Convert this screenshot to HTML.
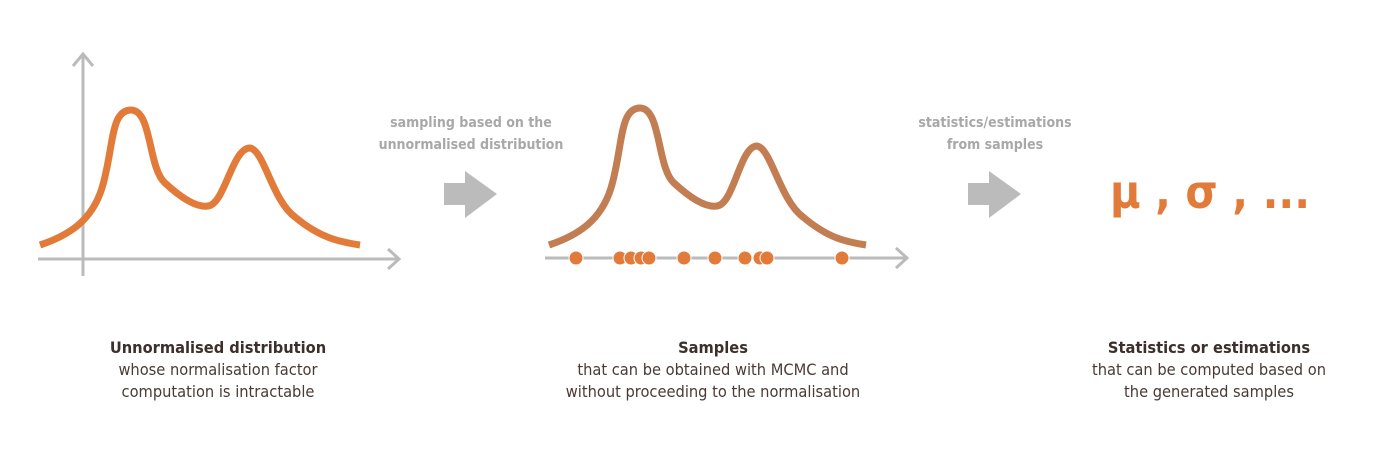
<!DOCTYPE html>
<html><head><meta charset="utf-8"><style>
body{margin:0;background:#fff;width:1400px;height:463px;overflow:hidden;font-family:"DejaVu Sans Condensed","Liberation Sans",sans-serif}
.t{position:absolute;text-align:center;font-size:16.3px;color:#4a3a36;line-height:22px;width:400px}
.t b{color:#3c2f2c}
.g{position:absolute;text-align:center;font-size:14px;font-weight:bold;color:#a8a8a8;line-height:22px;width:300px}
</style></head><body>
<svg width="1400" height="463" style="position:absolute;left:0;top:0">
<g stroke="#bbb" stroke-width="3" fill="none">
<line x1="83" y1="56" x2="83" y2="276"/><polyline points="73,66 83,54 93,66"/>
<line x1="38" y1="259" x2="398" y2="259"/><polyline points="388,249 399,259 388,269"/>
</g>
<path fill="none" stroke="#e27b3a" stroke-width="7" d="M40,245 C70,235 92,220 102,188 C114,148 110,110 131,110 C152,110 148,168 165,183 C178,195 195,208 208,206 C225,204 232,148 250,148 C264,150 272,200 295,217 C320,238 340,242 360,245"/>
<g stroke="#bbb" stroke-width="3" fill="none">
<line x1="545" y1="258" x2="906" y2="258"/><polyline points="896,248 907,258 896,268"/>
</g>
<path fill="none" stroke="#c27d52" stroke-width="7" d="M549,245 C579,235 601,220 611,188 C623,148 619,108 640,108 C661,108 657,168 674,183 C687,195 704,208 717,206 C734,204 740,146 757,146 C771,148 780,200 803,217 C828,238 846,242 866,245"/>
<g id="dots"></g>
<g><polygon points="444,183 465,183 465,171 497,194 465,218 465,205 444,205" fill="#bbb"/></g>
<g><polygon points="968,183 989,183 989,171 1021,194 989,218 989,205 968,205" fill="#bbb"/></g>
<text x="1210" y="208" text-anchor="middle" font-family="DejaVu Sans, sans-serif" font-weight="bold" font-size="46" fill="#e27b3a" textLength="200" lengthAdjust="spacingAndGlyphs">μ , σ , ...</text>
</svg>
<div class="g" style="left:321px;top:112px">sampling based on the<br>unnormalised distribution</div>
<div class="g" style="left:845px;top:112px">statistics/estimations<br>from samples</div>
<div class="t" style="left:18px;top:337px"><b>Unnormalised distribution</b><br>whose normalisation factor<br>computation is intractable</div>
<div class="t" style="left:513px;top:337px"><b>Samples</b><br>that can be obtained with MCMC and<br>without proceeding to the normalisation</div>
<div class="t" style="left:1009px;top:337px"><b>Statistics or estimations</b><br>that can be computed based on<br>the generated samples</div>
<script>
const sampleX=[576,620,631,641,649,684,715,745,760,767,842];
const g=document.getElementById('dots');


sampleX.forEach(x=>{
  const c=document.createElementNS('http://www.w3.org/2000/svg','circle');
  
  
  c.setAttribute('cx',x);c.setAttribute('cy',258);c.setAttribute('r',7);
  c.setAttribute('fill','#e27b3a');c.setAttribute('stroke','#fff');c.setAttribute('stroke-width','1');
  g.appendChild(c);
});
</script>
</body></html>
